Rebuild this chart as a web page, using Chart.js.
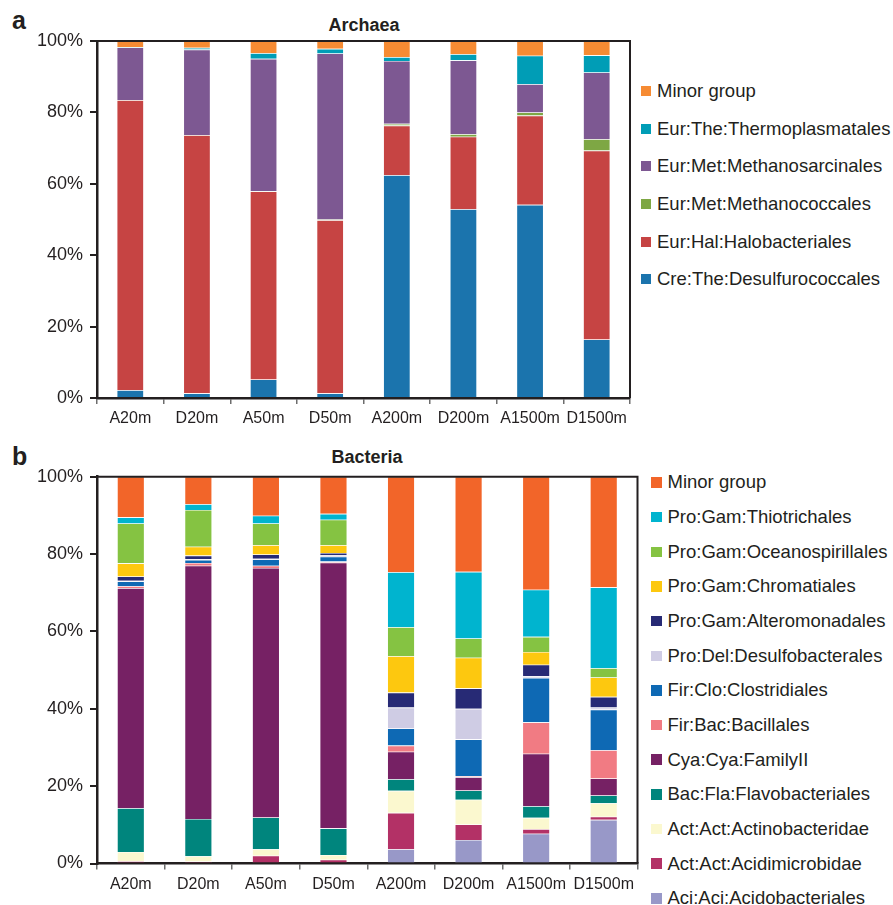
<!DOCTYPE html>
<html>
<head>
<meta charset="utf-8">
<script src="https://cdn.jsdelivr.net/npm/chart.js@4.4.1/dist/chart.umd.min.js"></script>
<style>
  html, body { margin: 0; padding: 0; background: #fff; }
  #wrap { position: relative; width: 893px; height: 905px; background: #fff; font-family: "Liberation Sans", Arial, sans-serif; color: #231f20; overflow: hidden; }
  canvas { position: absolute; left: 0; }
  .panel { position: absolute; font-weight: bold; font-size: 25px; line-height: 25px; }
  .title { position: absolute; font-weight: bold; font-size: 18px; line-height: 20px; transform: translateX(-50%); white-space: nowrap; }
  .lg { position: absolute; white-space: nowrap; }
</style>
</head>
<body>
<div id="wrap">
  <div class="panel" style="left:12px;top:8px;">a</div>
  <div class="title" style="left:364px;top:14.5px;">Archaea</div>
  <canvas id="arc" width="640" height="440" style="top:0px;"></canvas>
  <div class="panel" style="left:12px;top:444px;">b</div>
  <div class="title" style="left:367px;top:447px;">Bacteria</div>
  <canvas id="bac" width="645" height="465" style="top:440px;"></canvas>
</div>
<script>
// Sample sites (A = station A, D = station D, depth in metres)
const samples = ['A20m', 'D20m', 'A50m', 'D50m', 'A200m', 'D200m', 'A1500m', 'D1500m'];
const percentTicks = [0, 20, 40, 60, 80, 100];

// Archaea: relative abundance (%) per order, stacked bottom to top
const archaeaLabels = [
  'Cre:The:Desulfurococcales',
  'Eur:Hal:Halobacteriales',
  'Eur:Met:Methanococcales',
  'Eur:Met:Methanosarcinales',
  'Eur:The:Thermoplasmatales',
  'Minor group'
];
const arcDesulfurococcales = [2.2, 1.3, 5.2, 1.3, 62.4, 52.9, 54.1, 16.4];
const arcHalobacteriales   = [81.2, 72.3, 52.7, 48.5, 13.9, 20.3, 25.0, 52.9];
const arcMethanococcales   = [0.1, 0.1, 0.1, 0.2, 0.5, 0.7, 0.9, 3.2];
const arcMethanosarcinales = [14.7, 23.9, 37.0, 46.5, 17.6, 20.7, 7.9, 18.7];
const arcThermoplasmatales = [0.1, 0.5, 1.6, 1.3, 1.1, 1.7, 8.0, 4.8];
const arcMinor             = [1.7, 1.9, 3.4, 2.2, 4.5, 3.7, 4.1, 4.0];

// Bacteria: relative abundance (%) per order, stacked bottom to top
const bacteriaLabels = [
  'Aci:Aci:Acidobacteriales',
  'Act:Act:Acidimicrobidae',
  'Act:Act:Actinobacteridae',
  'Bac:Fla:Flavobacteriales',
  'Cya:Cya:FamilyII',
  'Fir:Bac:Bacillales',
  'Fir:Clo:Clostridiales',
  'Pro:Del:Desulfobacterales',
  'Pro:Gam:Alteromonadales',
  'Pro:Gam:Chromatiales',
  'Pro:Gam:Oceanospirillales',
  'Pro:Gam:Thiotrichales',
  'Minor group'
];
const bacAcidobacteriales   = [0, 0, 0, 0, 3.7, 6.1, 7.7, 11.3];
const bacAcidimicrobidae    = [0.6, 0.5, 2.0, 1.0, 9.4, 4.0, 1.2, 0.8];
const bacActinobacteridae   = [2.4, 1.4, 1.7, 1.2, 5.7, 6.4, 2.9, 3.5];
const bacFlavobacteriales   = [11.3, 9.6, 8.2, 6.9, 3.0, 2.4, 3.0, 2.0];
const bacFamilyII           = [56.9, 65.5, 64.5, 68.7, 7.1, 3.4, 13.6, 4.4];
const bacBacillales         = [0.5, 0.7, 0.6, 0.3, 1.6, 0.3, 8.1, 7.3];
const bacClostridiales      = [1.2, 0.8, 1.6, 1.2, 4.4, 9.5, 11.5, 10.5];
const bacDesulfobacterales  = [0.2, 0.2, 0.2, 0.4, 5.4, 7.9, 0.4, 0.5];
const bacAlteromonadales    = [1.1, 0.9, 1.1, 0.6, 3.9, 5.3, 3.0, 2.8];
const bacChromatiales       = [3.4, 2.3, 2.4, 2.0, 9.4, 7.9, 3.3, 5.0];
const bacOceanospirillales  = [10.3, 9.5, 5.6, 6.6, 7.5, 5.0, 3.9, 2.4];
const bacThiotrichales      = [1.6, 1.5, 2.0, 1.5, 14.2, 17.2, 12.2, 20.9];
const bacMinor              = [10.5, 7.1, 10.1, 9.6, 24.7, 24.6, 29.2, 28.6];

// Fill colours, same order as the series
const archaeaColors = ['#1b74ad', '#c64443', '#7ea744', '#7d5892', '#009db6', '#f68b33'];
const bacteriaColors = ['#9898c8', '#b33166', '#fbf8cf', '#00857d', '#762164', '#f17b83',
                        '#0e69b4', '#cfcce4', '#272a75', '#fdc80f', '#85c342', '#00b4cf', '#f26529'];

const archaeaSeries = [arcDesulfurococcales, arcHalobacteriales, arcMethanococcales,
                       arcMethanosarcinales, arcThermoplasmatales, arcMinor];
const bacteriaSeries = [bacAcidobacteriales, bacAcidimicrobidae, bacActinobacteridae,
                        bacFlavobacteriales, bacFamilyII, bacBacillales, bacClostridiales,
                        bacDesulfobacterales, bacAlteromonadales, bacChromatiales,
                        bacOceanospirillales, bacThiotrichales, bacMinor];

const INK = '#231f20';
const FONT = '"Liberation Sans", Arial, sans-serif';

// Closes the plot box on the top and right sides
const frame = {
  id: 'frame',
  afterDraw(chart) {
    const { ctx, chartArea: a } = chart;
    ctx.save();
    ctx.strokeStyle = INK;
    ctx.lineWidth = 2;
    ctx.beginPath();
    ctx.moveTo(a.left, a.top);
    ctx.lineTo(a.right, a.top);
    ctx.lineTo(a.right, a.bottom);
    ctx.stroke();
    ctx.restore();
  }
};

function stackedChart(id, labels, series, colors, pad, xHeight) {
  return new Chart(document.getElementById(id), {
    type: 'bar',
    data: {
      labels: samples,
      datasets: series.map((s, i) => ({
        label: labels[i],
        data: s,
        backgroundColor: colors[i],
        borderColor: 'rgba(255,255,255,0.35)',
        borderWidth: 0.6,
        barPercentage: 0.405,
        categoryPercentage: 1
      }))
    },
    options: {
      responsive: false,
      animation: false,
      devicePixelRatio: 1,
      layout: { padding: pad },
      plugins: { legend: { display: false }, tooltip: { enabled: false }, title: { display: false } },
      scales: {
        x: {
          stacked: true,
          afterFit: (s) => { s.height = xHeight; },
          grid: { display: true, drawOnChartArea: false, drawTicks: true, tickLength: 6, offset: true, color: '#6d6d6d', lineWidth: 1.5 },
          border: { display: true, color: INK, width: 2.5 },
          ticks: { color: INK, font: { family: FONT, size: 16 }, padding: 5, maxRotation: 0 }
        },
        y: {
          stacked: true,
          min: 0,
          max: 100,
          afterFit: (s) => { s.width = 97; },
          afterBuildTicks: (s) => { s.ticks = percentTicks.map(v => ({ value: v })); },
          grid: { display: true, drawOnChartArea: false, drawTicks: true, tickLength: 7, color: INK, lineWidth: 2 },
          border: { display: true, color: INK, width: 2.5 },
          ticks: { color: INK, font: { family: FONT, size: 18 }, padding: 7, callback: (v) => v + '%' }
        }
      }
    },
    plugins: [frame]
  });
}

stackedChart('arc', archaeaLabels, archaeaSeries, archaeaColors, { left: 0, top: 41, right: 10, bottom: 0 }, 42);
stackedChart('bac', bacteriaLabels, bacteriaSeries, bacteriaColors, { left: 0, top: 36.7, right: 7.5, bottom: 0 }, 41.5);

// Legends, listed top to bottom in reverse stacking order
function legend(labels, colors, opt) {
  const wrap = document.getElementById('wrap');
  const n = labels.length;
  for (let k = 0; k < n; k++) {
    const i = n - 1 - k;
    const cy = opt.top + k * opt.step;
    const box = document.createElement('div');
    box.style.cssText = `position:absolute;left:${opt.boxLeft}px;top:${cy - opt.box / 2}px;width:${opt.box}px;height:${opt.box}px;background:${colors[i]};`;
    wrap.appendChild(box);
    const txt = document.createElement('div');
    txt.className = 'lg';
    txt.textContent = labels[i];
    txt.style.cssText += `left:${opt.textLeft}px;top:${cy - opt.font * 0.6}px;font-size:${opt.font}px;line-height:${opt.font * 1.2}px;`;
    wrap.appendChild(txt);
  }
}
legend(archaeaLabels, archaeaColors, { top: 91, step: 37.65, boxLeft: 641, box: 10, textLeft: 657, font: 18.5 });
legend(bacteriaLabels, bacteriaColors, { top: 482.5, step: 34.65, boxLeft: 651, box: 10.5, textLeft: 667.5, font: 18.5 });
</script>
</body>
</html>
